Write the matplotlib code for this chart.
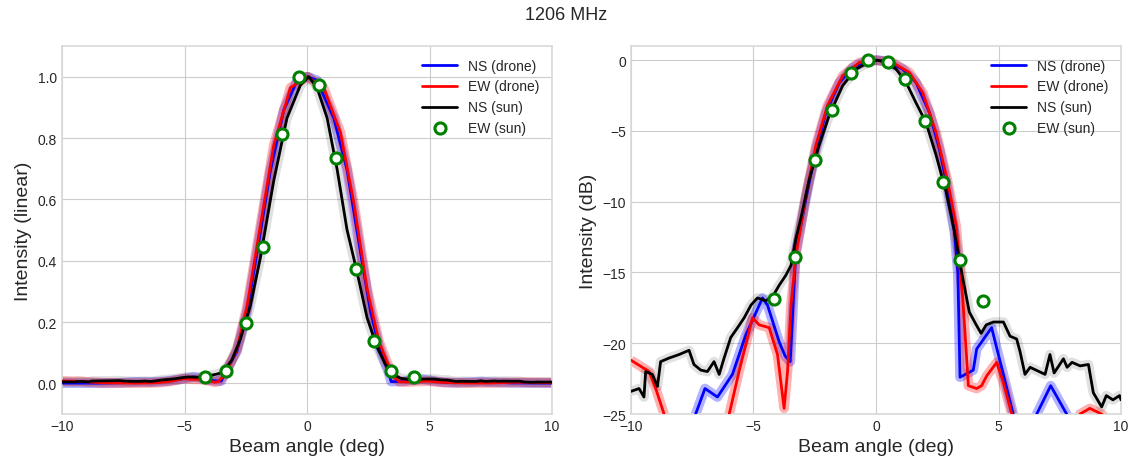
import matplotlib
matplotlib.use("Agg")
import matplotlib.pyplot as plt
import numpy as np

# NS (drone) beam, dB vs angle (deg)
ns_drone_x = [-10, -8.5, -7.6, -7.36, -6.98, -6.47, -5.86, -5.31, -4.63, -4.43, -3.95, -3.71,
              -3.5, -3.27, -2.86, -2.45, -2.04, -1.5, -0.95, -0.4, 0, 0.4, 1.09, 1.63, 2.18,
              2.59, 2.93, 3.2, 3.34, 3.43, 3.97, 4.11, 4.72, 5.6, 6.0, 6.56, 7.13, 7.78, 8.3,
              9.2, 10]
ns_drone_db = [-31, -32, -27, -25, -23.2, -23.8, -22.2, -19.4, -16.8, -17.3, -19.9, -20.9,
               -21.3, -13.5, -9.8, -6.3, -3.7, -1.6, -0.5, -0.05, 0, -0.05, -0.63, -1.57, -3.7,
               -6.3, -9.1, -12.1, -15, -22.4, -21.9, -20.4, -18.9, -25, -27, -25, -23.0, -25, -28,
               -30, -31]

# EW (drone) beam
ew_drone_x = [-10, -9.26, -8.99, -8.65, -8.3, -7, -6.3, -5.99, -5.59, -5.04, -4.77, -4.36,
              -4.02, -3.75, -3.61, -3.47, -3.27, -2.86, -2.45, -1.98, -1.36, -0.68, 0, 0.68,
              1.36, 1.91, 2.45, 2.93, 3.27, 3.54, 3.77, 4.11, 4.31, 4.52, 4.93, 5.2, 5.54, 6.5,
              7.5, 8.33, 8.73, 9.2, 9.6, 10]
ew_drone_db = [-21.2, -22.0, -23.2, -25, -27.5, -32, -28, -25, -22.0, -18.2, -18.7, -18.9,
               -20.8, -24.6, -22, -17.3, -13.8, -9.55, -6.0, -3.2, -1.1, -0.16, 0, -0.16,
               -0.87, -2.3, -5.1, -8.6, -11.7, -16.8, -23.0, -23.2, -23.0, -22.3, -21.35, -22.8,
               -25, -30, -29, -25, -24.6, -25, -25.6, -27]

# NS (sun) drift scan
ns_sun_x = [-10, -9.67, -9.47, -9.4, -9.13, -8.92, -8.79, -8.45, -8.04, -7.63, -7.43, -7.15,
            -6.88, -6.61, -6.4, -6.2, -5.93, -5.65, -5.38, -5.1, -4.84, -4.5, -4.22, -3.95,
            -3.68, -3.47, -3.27, -3.07, -2.72, -2.32, -1.91, -1.36, -0.82, -0.27, 0.07, 0.41,
            0.82, 1.23, 1.63, 2.04, 2.45, 2.86, 3.2, 3.54, 3.81, 4.09, 4.29, 4.5, 4.79, 5.2,
            5.47, 5.74, 5.88, 6.08, 6.29, 6.9, 7.1, 7.27, 7.65, 7.8, 8.0, 8.33, 8.67, 8.87,
            9.21, 9.4, 9.67, 9.94, 10]
ns_sun_db = [-23.4, -23.2, -23.8, -22.0, -22.2, -23.05, -21.3, -21.05, -20.8, -20.5, -21.5,
             -21.9, -22.0, -21.3, -22.2, -21.05, -19.6, -18.9, -18.2, -17.3, -16.8, -17.0,
             -16.7, -15.9, -15.2, -14.5, -12.6, -11.2, -8.4, -6.0, -3.9, -1.8, -0.63, -0.12, 0,
             -0.16, -0.63, -1.57, -3.0, -4.4, -6.7, -9.3, -12.1, -15.4, -17.8, -18.7, -19.3,
             -18.7, -18.5, -18.5, -19.5, -19.7, -20.6, -22.2, -21.7, -22.2, -20.8, -22.1, -21.1,
             -21.7, -21.35, -21.6, -21.5, -23.5, -24.5, -23.7, -24.0, -23.7, -24.0]

# EW (sun) points
ew_sun_x = [-4.18, -3.31, -2.48, -1.81, -1.02, -0.34, 0.5, 1.19, 2.0, 2.74, 3.41, 4.36]
ew_sun_db = [-16.85, -13.92, -7.04, -3.52, -0.9, 0.0, -0.12, -1.34, -4.3, -8.64, -14.13, -17.04]


def draw(ax, conv):
    series = [(ns_drone_x, ns_drone_db, 'blue', 0.3, 'NS (drone)'),
              (ew_drone_x, ew_drone_db, 'red', 0.3, 'EW (drone)'),
              (ns_sun_x, ns_sun_db, 'black', 0.12, 'NS (sun)')]
    for x, y, c, a, lab in series:
        ax.plot(x, conv(np.array(y)), color=c, alpha=a, lw=7, solid_capstyle='butt', zorder=2)
    for x, y, c, a, lab in series:
        ax.plot(x, conv(np.array(y)), color=c, lw=2, label=lab, zorder=3)
    ax.plot(ew_sun_x, conv(np.array(ew_sun_db)), 'o', mfc='white', mec='green', mew=2.2,
            ms=8, label='EW (sun)', zorder=5)
    ax.set_xlim(-10, 10)
    ax.set_xticks([-10, -5, 0, 5, 10])
    ax.set_xlabel('Beam angle (deg)', fontsize=14)
    ax.legend(loc='upper right', fontsize=10, frameon=False, handlelength=2.5)
    ax.tick_params(labelsize=10)


plt.style.use('seaborn-v0_8-whitegrid')
plt.rcParams['font.family'] = ['Liberation Sans', 'DejaVu Sans']
plt.rcParams['text.color'] = '.15'
plt.rcParams['axes.labelcolor'] = '.15'
plt.rcParams['xtick.color'] = '.15'
plt.rcParams['ytick.color'] = '.15'

fig = plt.figure(figsize=(11.32, 4.64), dpi=100)
ax1 = fig.add_axes([0.0548, 0.1056, 0.4329, 0.793])
ax2 = fig.add_axes([0.5574, 0.1056, 0.4329, 0.793])

draw(ax1, lambda d: 10 ** (d / 10.0))
ax1.set_ylim(-0.1, 1.1)
ax1.set_yticks([0.0, 0.2, 0.4, 0.6, 0.8, 1.0])
ax1.set_ylabel('Intensity (linear)', fontsize=14)

draw(ax2, lambda d: d)
ax2.set_ylim(-25, 1)
ax2.set_yticks([0, -5, -10, -15, -20, -25])
ax2.set_ylabel('Intensity (dB)', fontsize=14)

for ax in (ax1, ax2):
    for s in ax.spines.values():
        s.set_color('#d9d9d9')
        s.set_linewidth(1.2)

fig.suptitle('1206 MHz', fontsize=13, y=0.985)
fig.savefig('out.png', dpi=100)
